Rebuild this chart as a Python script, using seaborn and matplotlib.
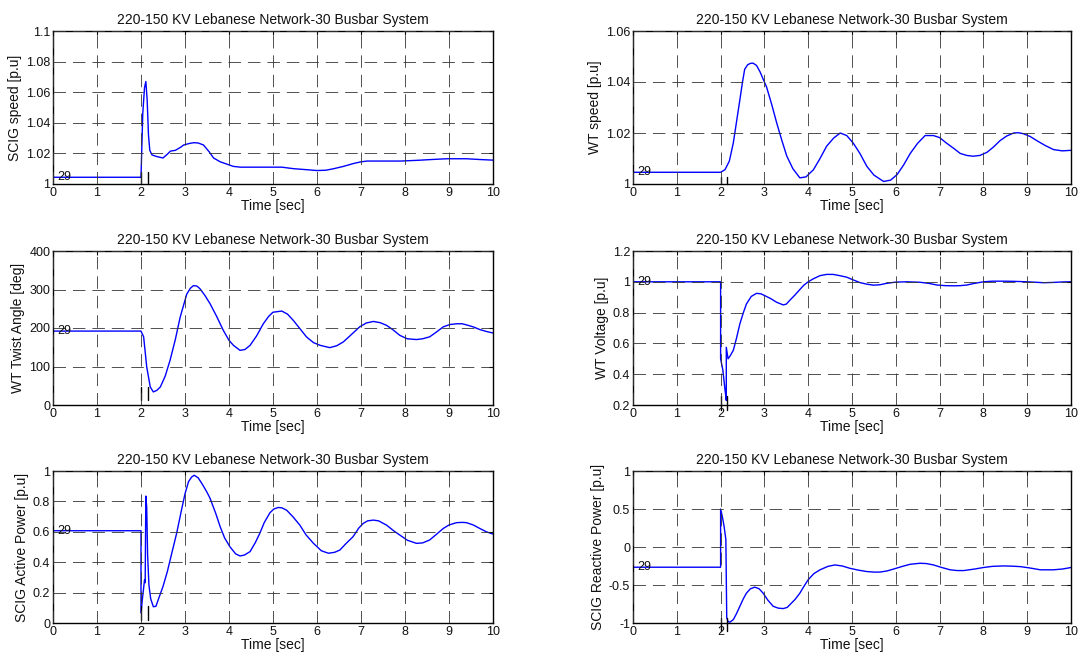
import matplotlib
matplotlib.use("Agg")
import matplotlib.pyplot as plt
from matplotlib.ticker import FormatStrFormatter, MultipleLocator
import seaborn as sns
import pandas as pd

# ---------------- data ----------------
title_text = "220-150 KV Lebanese Network-30 Busbar System"
xlabel_text = "Time [sec]"
bus_label = "29"
event_times = [2.0, 2.15]

ylabels = ["SCIG speed [p.u]", "WT speed [p.u]", "WT Twist Angle [deg]",
           "WT Voltage [p.u]", "SCIG Active Power [p.u]", "SCIG Reactive Power [p.u]"]

t1 = [0, 2.0, 2.04, 2.08, 2.11, 2.14, 2.17, 2.2, 2.25, 2.35, 2.5, 2.6, 2.67, 2.78, 2.9, 2.97,
      3.1, 3.2, 3.3, 3.42, 3.55, 3.65, 3.8, 3.95, 4.1, 4.26, 4.6, 5.0, 5.2, 5.47, 5.7, 6.0,
      6.2, 6.38, 6.6, 6.83, 7.0, 7.14, 7.5, 7.9, 8.3, 8.6, 8.95, 9.4, 9.7, 10]
scig_speed = [1.0044, 1.0044, 1.046, 1.063, 1.067, 1.055, 1.032, 1.022, 1.019, 1.018,
              1.017, 1.0195, 1.0215, 1.022, 1.024, 1.0255, 1.0265, 1.027, 1.0268, 1.0255,
              1.021, 1.017, 1.0145, 1.013, 1.0115, 1.011, 1.011, 1.011, 1.011, 1.010,
              1.0095, 1.0088, 1.009, 1.010, 1.0115, 1.0134, 1.0145, 1.015, 1.015, 1.015,
              1.0155, 1.016, 1.0165, 1.0165, 1.016, 1.0156]

t2 = [0, 2.0, 2.1, 2.2, 2.29, 2.36, 2.44, 2.5, 2.55, 2.62, 2.68, 2.74, 2.82, 2.9, 3.05,
      3.17, 3.28, 3.4, 3.51, 3.65, 3.81, 3.95, 4.12, 4.27, 4.42, 4.58, 4.73, 4.88, 5.03,
      5.18, 5.34, 5.5, 5.72, 5.88, 6.03, 6.18, 6.33, 6.5, 6.67, 6.86, 7.0, 7.16, 7.32,
      7.47, 7.62, 7.77, 7.92, 8.08, 8.23, 8.38, 8.53, 8.69, 8.8, 8.92, 9.07, 9.22, 9.4,
      9.6, 9.8, 10]
wt_speed = [1.0046, 1.0046, 1.0056, 1.009, 1.0161, 1.024, 1.033, 1.04, 1.045, 1.0468,
            1.0473, 1.0474, 1.0465, 1.044, 1.038, 1.031, 1.024, 1.017, 1.011, 1.006,
            1.0024, 1.0028, 1.0056, 1.010, 1.0148, 1.018, 1.020, 1.019, 1.016, 1.012,
            1.0069, 1.0035, 1.001, 1.0015, 1.0037, 1.0075, 1.012, 1.016, 1.019, 1.019,
            1.0182, 1.016, 1.014, 1.012, 1.0112, 1.0109, 1.0112, 1.0124, 1.0145, 1.017,
            1.0188, 1.020, 1.0201, 1.0197, 1.0186, 1.017, 1.0152, 1.0135, 1.013, 1.0132]

t3 = [0, 2.0, 2.06, 2.13, 2.21, 2.28, 2.36, 2.44, 2.55, 2.66, 2.78, 2.89, 3.04, 3.12,
      3.19, 3.27, 3.34, 3.45, 3.57, 3.72, 3.87, 4.0, 4.1, 4.25, 4.36, 4.48, 4.63, 4.78,
      4.9, 5.0, 5.2, 5.33, 5.46, 5.6, 5.76, 5.92, 6.07, 6.29, 6.45, 6.6, 6.8, 6.97, 7.12,
      7.28, 7.43, 7.58, 7.73, 7.88, 8.05, 8.26, 8.4, 8.56, 8.72, 8.87, 9.02, 9.17, 9.3,
      9.4, 9.55, 9.7, 9.85, 10]
twist_angle = [192, 192, 177, 99, 47, 34, 38, 47, 75, 116, 170, 228, 288, 303, 310, 309,
               302, 285, 263, 230, 194, 168, 155, 142, 144, 155, 180, 211, 230, 241, 244,
               236, 220, 200, 177, 162, 155, 149, 154, 164, 185, 203, 213, 217, 214, 207,
               195, 181, 172, 170, 172, 177, 190, 203, 209, 211, 211, 208, 203, 196, 191, 187]

t4 = [0, 2.0, 2.0, 2.05, 2.1, 2.13, 2.13, 2.17, 2.22, 2.29, 2.36, 2.44, 2.52, 2.59, 2.7,
      2.82, 2.92, 3.01, 3.15, 3.28, 3.43, 3.5, 3.58, 3.7, 3.81, 3.9, 4.0, 4.12, 4.27, 4.42,
      4.57, 4.72, 4.88, 5.03, 5.18, 5.33, 5.49, 5.64, 5.79, 6.0, 6.25, 6.55, 6.75, 6.94,
      7.13, 7.32, 7.47, 7.62, 7.8, 8.0, 8.2, 8.46, 8.7, 8.99, 9.2, 9.38, 9.6, 9.8, 10]
wt_voltage = [1.0, 1.0, 0.50, 0.43, 0.30, 0.23, 0.575, 0.50, 0.52, 0.555, 0.63, 0.727,
              0.80, 0.856, 0.905, 0.925, 0.922, 0.91, 0.89, 0.867, 0.85, 0.855, 0.88,
              0.915, 0.95, 0.978, 1.0, 1.02, 1.04, 1.048, 1.048, 1.04, 1.03, 1.012, 0.995,
              0.985, 0.978, 0.981, 0.99, 0.998, 1.0, 0.997, 0.99, 0.979, 0.975, 0.974,
              0.975, 0.979, 0.99, 1.0, 1.004, 1.004, 1.003, 1.0, 0.997, 0.994, 0.996,
              0.999, 1.0]

t5 = [0, 2.0, 2.0, 2.04, 2.08, 2.095, 2.11, 2.13, 2.15, 2.18, 2.22, 2.28, 2.34, 2.4, 2.5,
      2.6, 2.7, 2.81, 2.92, 3.0, 3.08, 3.15, 3.21, 3.3, 3.4, 3.5, 3.57, 3.7, 3.8, 3.9,
      4.02, 4.15, 4.25, 4.35, 4.48, 4.6, 4.7, 4.8, 4.93, 5.02, 5.12, 5.2, 5.31, 5.45,
      5.61, 5.75, 5.92, 6.1, 6.26, 6.4, 6.52, 6.65, 6.82, 6.95, 7.05, 7.15, 7.28, 7.4,
      7.58, 7.75, 7.88, 8.05, 8.26, 8.4, 8.56, 8.7, 8.87, 9.0, 9.17, 9.3, 9.4, 9.55, 9.7,
      9.85, 10]
active_power = [0.607, 0.607, 0.066, 0.18, 0.283, 0.265, 0.835, 0.76, 0.45, 0.25, 0.16,
                0.107, 0.11, 0.16, 0.24, 0.34, 0.46, 0.59, 0.743, 0.85, 0.93, 0.96, 0.972,
                0.955, 0.91, 0.86, 0.82, 0.72, 0.633, 0.56, 0.502, 0.455, 0.441, 0.447,
                0.47, 0.53, 0.59, 0.66, 0.725, 0.75, 0.76, 0.758, 0.742, 0.70, 0.644, 0.58,
                0.524, 0.475, 0.459, 0.465, 0.48, 0.52, 0.568, 0.625, 0.655, 0.672, 0.677,
                0.672, 0.644, 0.605, 0.579, 0.545, 0.524, 0.527, 0.546, 0.58, 0.622, 0.645,
                0.66, 0.662, 0.66, 0.645, 0.622, 0.60, 0.585]

t6 = [0, 2.0, 2.0, 2.04, 2.08, 2.12, 2.14, 2.17, 2.21, 2.29, 2.36, 2.44, 2.52, 2.59, 2.68,
      2.78, 2.88, 2.97, 3.08, 3.2, 3.32, 3.43, 3.52, 3.58, 3.7, 3.81, 3.9, 4.0, 4.13, 4.27,
      4.45, 4.61, 4.78, 4.95, 5.15, 5.34, 5.5, 5.64, 5.8, 5.95, 6.15, 6.33, 6.55, 6.7,
      6.86, 7.05, 7.24, 7.4, 7.55, 7.8, 8.0, 8.2, 8.46, 8.65, 8.84, 9.05, 9.3, 9.6, 9.8, 10]
reactive_power = [-0.266, -0.266, 0.5, 0.4, 0.27, 0.1, -0.93, -0.98, -0.99, -0.956, -0.88,
                  -0.78, -0.68, -0.607, -0.55, -0.528, -0.55, -0.607, -0.70, -0.78, -0.805,
                  -0.81, -0.795, -0.76, -0.69, -0.607, -0.52, -0.43, -0.35, -0.30, -0.255,
                  -0.236, -0.25, -0.28, -0.305, -0.323, -0.33, -0.33, -0.315, -0.29, -0.255,
                  -0.227, -0.214, -0.218, -0.236, -0.27, -0.30, -0.31, -0.31, -0.29, -0.27,
                  -0.255, -0.249, -0.252, -0.258, -0.275, -0.30, -0.30, -0.29, -0.27]

ylims = [(1.0, 1.1), (1.0, 1.06), (0, 400), (0.2, 1.2), (0, 1), (-1, 1)]
ysteps = [0.02, 0.02, 100, 0.2, 0.2, 0.5]

# ---------------- styling ----------------
sns.set_style("white")
plt.rcParams["font.family"] = ["Liberation Sans", "DejaVu Sans"]
plt.rcParams["lines.scale_dashes"] = False

fig = plt.figure(figsize=(10.87, 6.63), dpi=100)
W, H = 1087.0, 663.0
cols = [(53, 440), (633, 438)]
rows = [(31, 184), (251, 405), (471, 623)]

series = [(t1, scig_speed), (t2, wt_speed), (t3, twist_angle),
          (t4, wt_voltage), (t5, active_power), (t6, reactive_power)]
mark_ranges = [(0.0, 0.076), (0.0, 0.045), (0.035, 0.12), (-0.03, 0.06), (0.02, 0.11), (-0.05, 0.03)]

for i, (tt, vv) in enumerate(series):
    r, c = divmod(i, 2)
    x0, w = cols[c]
    top, bot = rows[r]
    ax = fig.add_axes([x0 / W, (H - bot) / H, w / W, (bot - top) / H])
    df = pd.DataFrame({"t": tt, "v": vv})
    sns.lineplot(data=df, x="t", y="v", ax=ax, color="#0000FF", linewidth=1.0,
                 estimator=None, sort=False, errorbar=None)
    ax.set_xlim(0, 10)
    ax.set_ylim(*ylims[i])
    ax.xaxis.set_major_locator(MultipleLocator(1))
    ax.yaxis.set_major_locator(MultipleLocator(ysteps[i]))
    ax.yaxis.set_major_formatter(FormatStrFormatter("%g"))
    ax.xaxis.set_major_formatter(FormatStrFormatter("%g"))
    ax.grid(True, color="#333333", linestyle=(0, (9, 5)), linewidth=0.6)
    ax.set_axisbelow(False)
    ax.tick_params(direction="in", top=True, right=True, length=3, width=0.8,
                   labelsize=9, pad=2, colors="#111111")
    for sp in ax.spines.values():
        sp.set_color("black")
        sp.set_linewidth(1.0)
    ax.set_title(title_text, fontsize=10, pad=5, color="#111111")
    ax.set_xlabel(xlabel_text, fontsize=10, labelpad=0, color="#111111")
    ax.set_ylabel(ylabels[i], fontsize=10, labelpad=3, color="#111111")
    ax.text(0.1, vv[0], bus_label, fontsize=9, va="center", ha="left", color="#111111")
    lo, hi = mark_ranges[i]
    for et in event_times:
        ax.axvline(et, ymin=lo, ymax=hi, color="black", linewidth=1.0, clip_on=False)

fig.savefig("out.png", dpi=100)
